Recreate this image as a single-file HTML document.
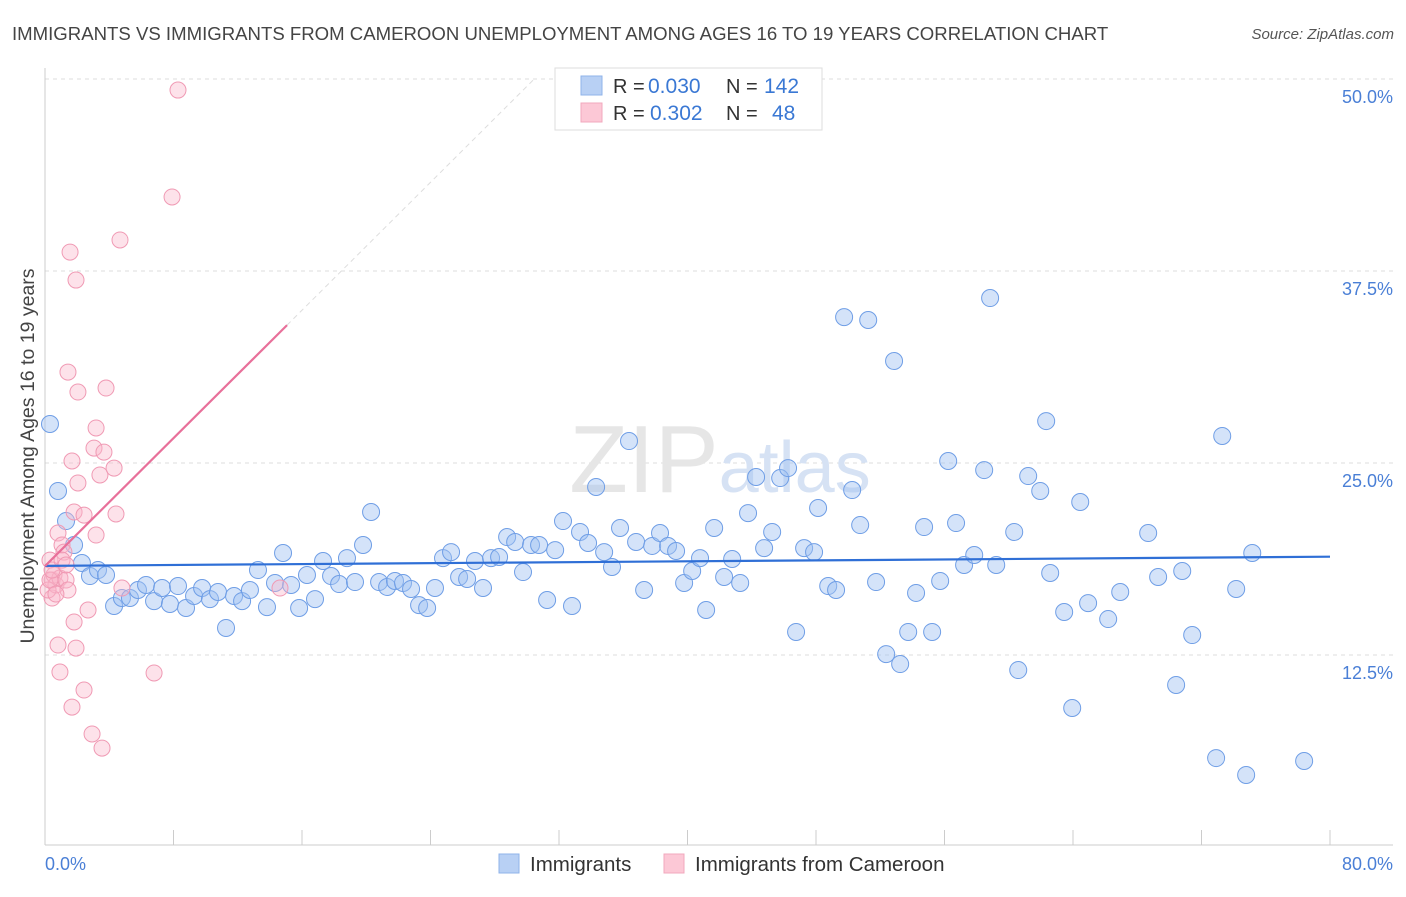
<!DOCTYPE html>
<html><head><meta charset="utf-8"><style>
body{margin:0;background:#fff;font-family:"Liberation Sans",sans-serif;}
svg text{font-family:"Liberation Sans",sans-serif;}
</style></head><body>
<svg id="chart" width="1406" height="892" xmlns="http://www.w3.org/2000/svg">
<text x="12" y="40" font-size="18.6" fill="#444">IMMIGRANTS VS IMMIGRANTS FROM CAMEROON UNEMPLOYMENT AMONG AGES 16 TO 19 YEARS CORRELATION CHART</text>
<text x="1394" y="39" font-size="15" fill="#555" font-style="italic" text-anchor="end">Source: ZipAtlas.com</text>
<g id="grid"></g>
<text x="720" y="492" font-size="96" fill="#e6e6e6" text-anchor="middle" font-family="Liberation Serif">ZIP<tspan font-family="Liberation Sans" font-size="72" fill="#d6e2f4">atlas</tspan></text>
<g id="pts"></g>
<g id="lines"></g>
<text transform="translate(34,456) rotate(-90)" font-size="19.5" fill="#444" text-anchor="middle">Unemployment Among Ages 16 to 19 years</text>
<text x="45" y="870" font-size="18" fill="#4a7fd6">0.0%</text>
<text x="1393" y="870" font-size="18" fill="#4a7fd6" text-anchor="end">80.0%</text>
<g>
<rect x="555" y="68" width="267" height="62" fill="#fff" stroke="#ddd"/>
<rect x="581" y="76" width="21" height="19" fill="#b8d0f4" stroke="#8fb3ea"/>
<rect x="581" y="103" width="21" height="19" fill="#fcc8d6" stroke="#f2a8bd"/>
<text x="613" y="93" font-size="20" fill="#333">R =</text>
<text x="648" y="93" font-size="21" fill="#3a78d4">0.030</text>
<text x="726" y="93" font-size="20" fill="#333">N =</text>
<text x="764" y="93" font-size="21" fill="#3a78d4">142</text>
<text x="613" y="120" font-size="20" fill="#333">R =</text>
<text x="650" y="120" font-size="21" fill="#3a78d4">0.302</text>
<text x="726" y="120" font-size="20" fill="#333">N =</text>
<text x="772" y="120" font-size="21" fill="#3a78d4">48</text>
</g>
<g>
<rect x="499" y="854" width="20" height="19" fill="#b8d0f4" stroke="#8fb3ea"/>
<text x="530" y="871" font-size="20.5" fill="#333">Immigrants</text>
<rect x="664" y="854" width="20" height="19" fill="#fcc8d6" stroke="#f2a8bd"/>
<text x="695" y="871" font-size="20.5" fill="#333">Immigrants from Cameroon</text>
</g>
</svg>
<script>
const yTicks=[12.5,25,37.5,50];
const yTickLabels=["12.5%","25.0%","37.5%","50.0%"];
const xTicks=[0,8,16,24,32,40,48,56,64,72,80];
const blueX=[0.31,0.81,1.31,1.81,2.30,2.80,3.30,3.80,4.30,4.79,5.29,5.79,6.29,6.79,7.29,7.78,8.28,8.78,9.28,9.78,10.27,10.77,11.27,11.77,12.27,12.76,13.26,13.82,14.32,14.82,15.32,15.82,16.31,16.81,17.31,17.81,18.31,18.80,19.30,19.80,20.30,20.80,21.30,21.79,22.29,22.79,23.29,23.79,24.28,24.78,25.28,25.78,26.28,26.77,27.27,27.77,28.27,28.77,29.27,29.76,30.26,30.76,31.26,31.76,32.25,32.81,33.31,33.81,34.31,34.81,35.30,35.80,36.36,36.80,37.30,37.80,38.29,38.79,39.29,39.79,40.29,40.78,41.16,41.66,42.28,42.78,43.28,43.77,44.27,44.77,45.27,45.77,46.26,46.76,47.26,47.88,48.13,48.76,49.25,49.75,50.25,50.75,51.25,51.74,52.37,52.86,53.24,53.74,54.23,54.73,55.23,55.73,56.23,56.72,57.22,57.85,58.47,58.84,59.22,60.34,60.59,61.21,61.96,62.33,62.58,63.45,63.95,64.45,64.94,66.19,66.94,68.68,69.30,70.42,70.80,71.42,72.91,73.29,74.16,74.78,75.16,78.39];
const blueY=[27.54,23.18,21.22,19.66,18.49,17.64,18.03,17.71,15.69,16.21,16.21,16.73,17.06,16.01,16.86,15.82,16.99,15.56,16.34,16.86,16.14,16.60,14.26,16.34,16.01,16.73,18.03,15.62,17.19,19.14,17.06,15.56,17.71,16.14,18.62,17.64,17.12,18.81,17.25,19.66,21.81,17.25,16.93,17.32,17.19,16.80,15.75,15.56,16.86,18.81,19.20,17.58,17.45,18.62,16.86,18.81,18.88,20.18,19.86,17.90,19.66,19.66,16.08,19.33,21.22,15.69,20.51,19.79,23.44,19.20,18.23,20.77,26.43,19.86,16.73,19.60,20.44,19.60,19.27,17.19,17.97,18.81,15.43,20.77,17.58,18.75,17.19,21.74,24.09,19.46,20.51,24.02,24.67,14.00,19.46,19.20,22.07,16.99,16.73,34.50,23.24,20.96,34.31,17.25,12.56,31.64,11.91,14.00,16.54,20.83,14.00,17.32,25.13,21.09,18.36,19.01,24.54,35.74,18.36,20.51,11.52,24.15,23.18,27.73,17.84,15.30,9.05,22.46,15.88,14.84,16.60,20.44,17.58,10.55,17.97,13.80,5.79,26.76,16.80,4.69,19.14,5.60];
const pinkX=[0.31,0.44,0.44,0.56,0.68,0.81,0.93,1.06,1.18,1.31,1.43,1.43,1.56,1.68,1.81,1.81,1.93,1.93,2.05,2.05,2.43,2.43,2.68,3.05,3.18,3.18,3.42,3.55,3.67,3.80,4.30,4.42,4.67,4.79,6.79,7.91,8.28,14.63,0.93,1.68,2.93,0.81,0.19,0.31,0.68,0.44,1.06,1.31];
const pinkY=[18.68,17.38,16.21,17.71,17.06,20.44,17.51,19.66,19.20,17.38,16.73,30.92,38.73,25.13,21.81,14.65,36.91,12.95,29.62,23.70,21.61,10.22,15.43,25.97,27.28,20.31,24.22,6.44,25.71,29.88,24.67,21.68,39.52,16.86,11.33,42.32,49.28,16.86,11.39,9.11,7.36,13.15,16.73,17.38,16.47,18.03,18.68,18.36];
const blueTrend=[18.3,18.9];
const pinkTrend=[18.29,1.041];
const pinkSolidEnd=15.07;
const X=v=>45+v*(1285/80), Y=v=>847-v*(768/50);
const NS="http://www.w3.org/2000/svg";
function mk(p,t,a){const e=document.createElementNS(NS,t);for(const k in a)e.setAttribute(k,a[k]);p.appendChild(e);return e;}
const grid=document.getElementById('grid');
yTicks.forEach((t,i)=>{
 const l=mk(grid,'line',{x1:45,x2:1393,y1:Y(t),y2:Y(t),stroke:'#ddd','stroke-dasharray':'4,4'});
 
 
 const tx=mk(grid,'text',{x:1393,y:Y(t)+24,'font-size':18,fill:'#4a7fd6','text-anchor':'end'});
 tx.textContent=yTickLabels[i];
 
 
});
const ax=mk(grid,'line',{x1:45,x2:1393,y1:845,y2:845,stroke:'#ccc'});


const ay=mk(grid,'line',{x1:45,x2:45,y1:68,y2:845,stroke:'#ccc'});


xTicks.forEach(t=>{
 const l=mk(grid,'line',{x1:X(t),x2:X(t),y1:830,y2:845,stroke:'#ccc'});
 
 
});
const pts=document.getElementById('pts');
blueX.forEach((x,i)=>{
 const c=mk(pts,'circle',{cx:X(x),cy:Y(blueY[i]),r:8.5,fill:'rgba(160,192,242,0.45)',stroke:'#6f9ee6','stroke-width':1});
 
 
});
pinkX.forEach((x,i)=>{
 const c=mk(pts,'circle',{cx:X(x),cy:Y(pinkY[i]),r:8,fill:'rgba(250,182,202,0.4)',stroke:'#f09ab4','stroke-width':1});
 
 
});
const lines=document.getElementById('lines');
const bl=mk(lines,'line',{x1:X(0),y1:Y(blueTrend[0]),x2:X(80),y2:Y(blueTrend[1]),stroke:'#2f6fd6','stroke-width':2.2});


const pf=x=>pinkTrend[0]+pinkTrend[1]*x;
const pl=mk(lines,'line',{x1:X(0),y1:Y(pf(0)),x2:X(pinkSolidEnd),y2:Y(pf(pinkSolidEnd)),stroke:'#e8709a','stroke-width':2.2});


const xe=(50-pinkTrend[0])/pinkTrend[1];
const pd=mk(lines,'line',{x1:X(pinkSolidEnd),y1:Y(pf(pinkSolidEnd)),x2:X(xe),y2:Y(50),stroke:'#ddd','stroke-width':1,'stroke-dasharray':'5,4'});


</script>
</body></html>
